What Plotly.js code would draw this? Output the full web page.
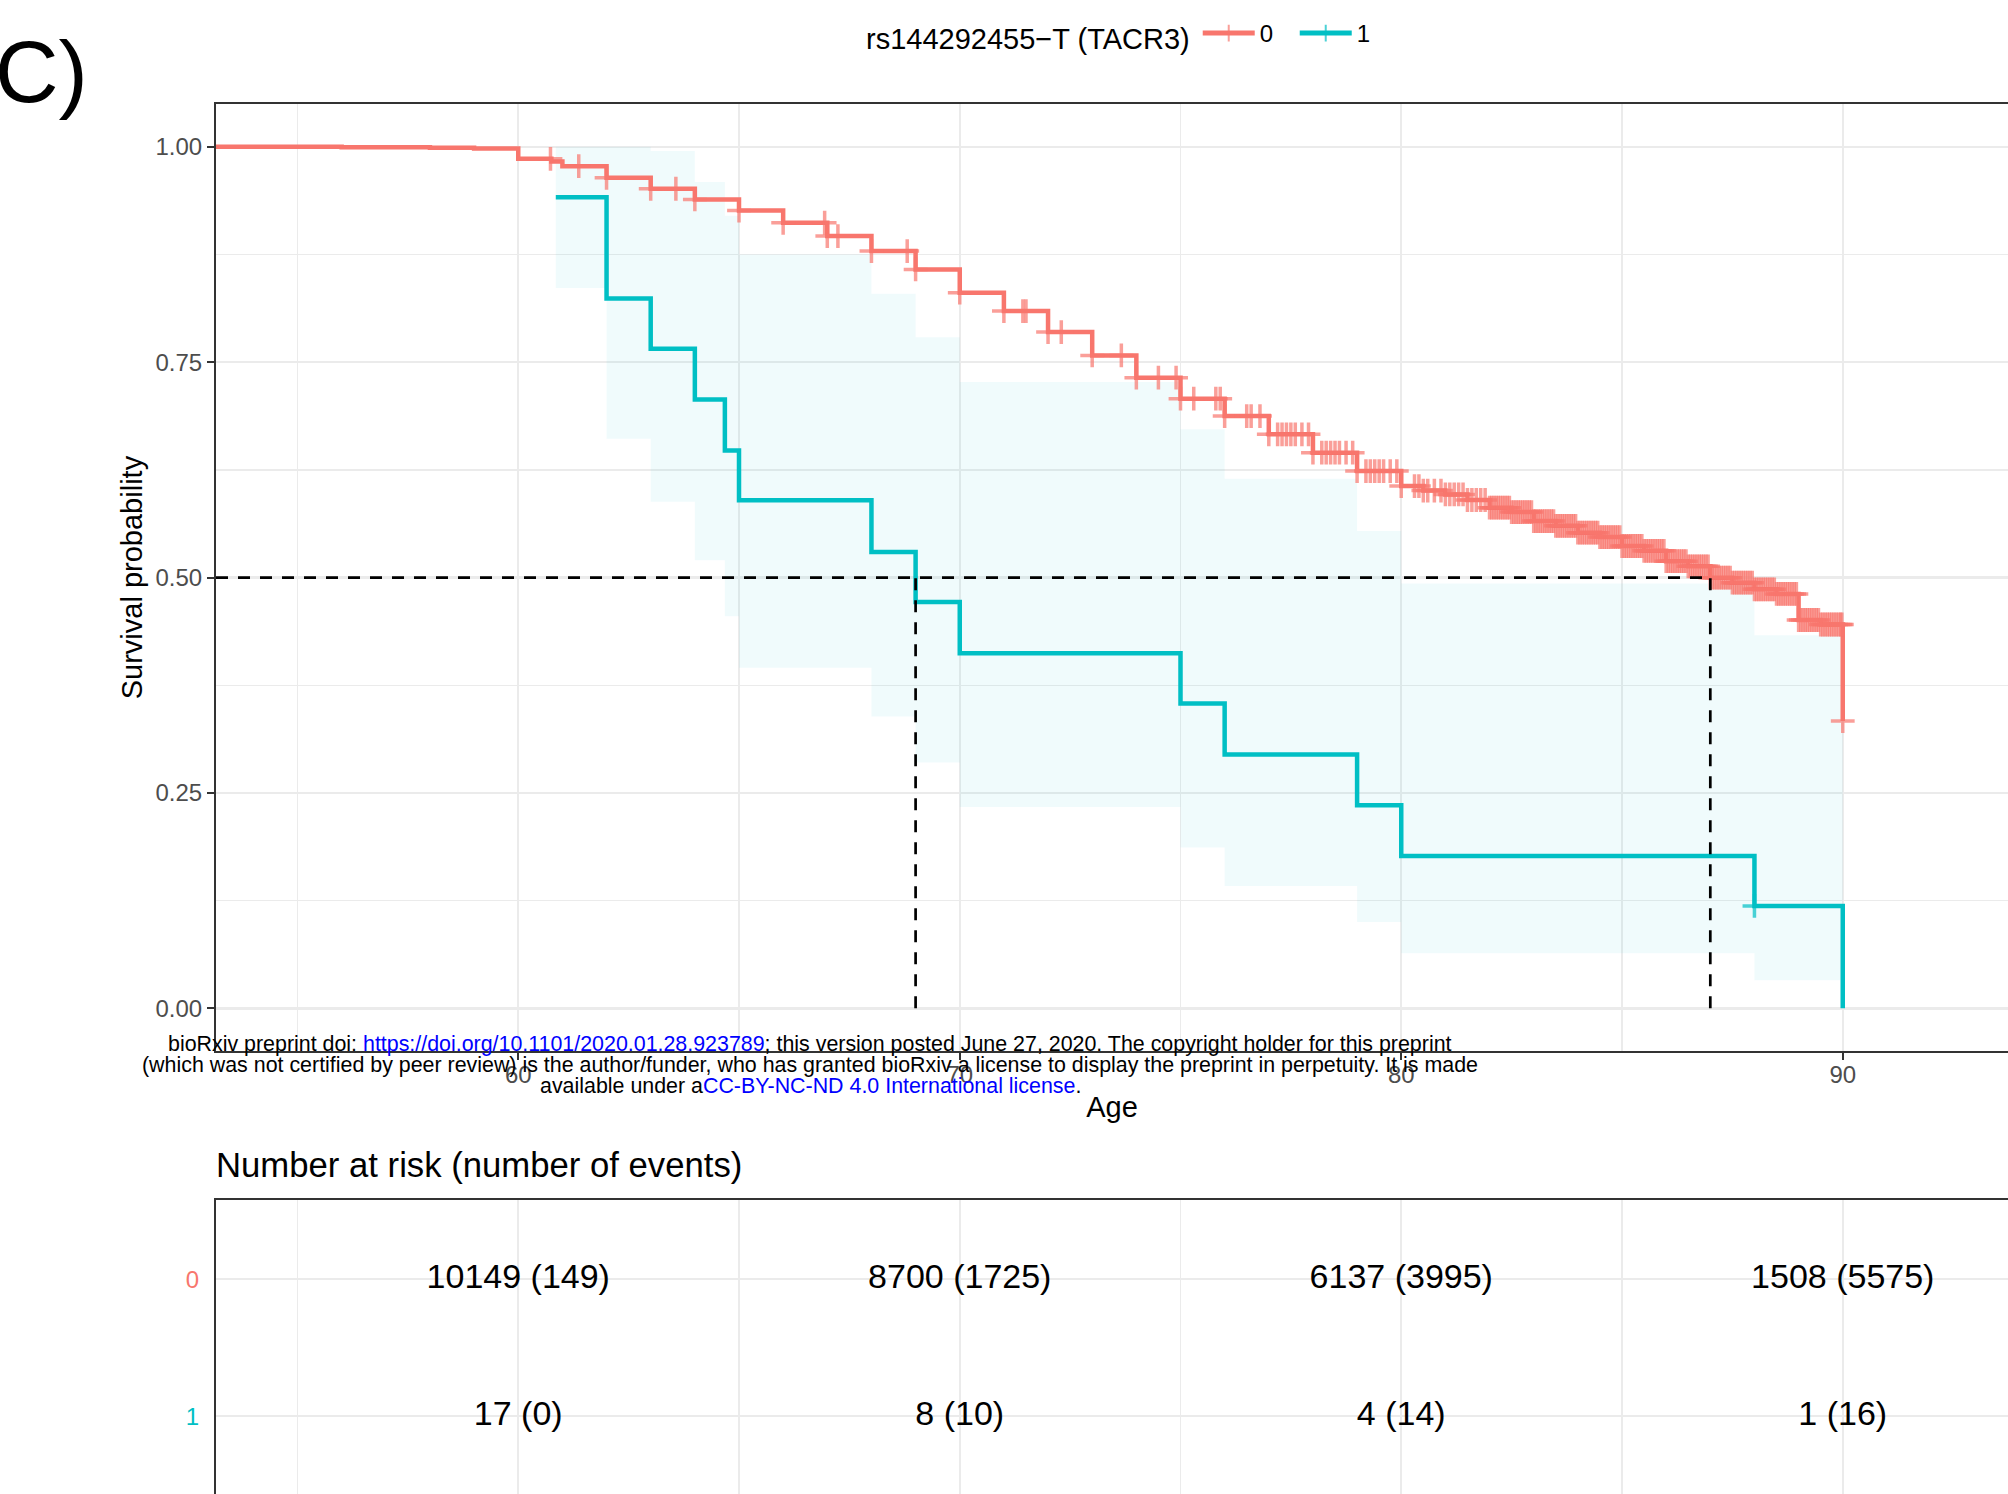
<!DOCTYPE html>
<html><head><meta charset="utf-8">
<script src="https://cdn.plot.ly/plotly-3.0.1.min.js"></script>
<style>html,body{margin:0;padding:0;background:#fff;} #chart{width:2008px;height:1494px;}</style>
</head><body><div id="chart"></div>
<script>
// ---------- data ----------
const legendTitle = 'rs144292455\u2212T (TACR3)';
const strata = ['0', '1'];
const strataColors = ['#F8766D', '#00BFC4'];

// stratum 0 Kaplan-Meier steps (age, survival after step)
const redTime = [53.15, 56.0, 58.0, 59.0, 60.0, 60.75, 61.0, 62.0, 63.0, 64.0, 65.0, 66.0, 67.0, 68.0, 69.0,
  70.0, 71.0, 72.0, 73.0, 74.0, 75.0, 76.0, 77.0, 78.0, 79.0, 80.0, 80.5, 81.0, 81.5, 82.0, 82.5, 83.0, 83.5,
  84.0, 84.5, 85.0, 85.5, 86.0, 86.5, 87.0, 87.5, 88.0, 88.5, 89.0, 89.5, 90.0];
const redSurv = [1.000, 0.9995, 0.999, 0.998, 0.986, 0.983, 0.9775, 0.964, 0.9513, 0.9389, 0.926, 0.9118, 0.8963, 0.8789, 0.8576,
  0.8306, 0.8093, 0.7849, 0.7578, 0.732, 0.7076, 0.6874, 0.6662, 0.6449, 0.6236, 0.6062, 0.6010, 0.5965, 0.5900, 0.5811, 0.5760, 0.5656, 0.5600,
  0.5521, 0.5470, 0.5366, 0.5310, 0.5190, 0.5130, 0.4998, 0.4940, 0.4863, 0.4810, 0.4507, 0.4455, 0.3335];
const redCensor = [60.73, 61.37, 62.0, 63.0, 63.57, 64.0, 65.0, 66.0, 66.94, 67.0, 67.24, 68.0, 68.81, 69.0, 70.0,
  71.0, 71.43, 71.5, 72.0, 72.3, 73.0, 73.66, 74.0, 74.5, 74.9, 75.0, 75.3, 75.8, 75.9, 76.0, 76.5, 76.6, 76.8,
  77.0, 77.2, 77.3, 77.4, 77.5, 77.6, 77.75, 77.9, 78.0, 78.2, 78.3, 78.4, 78.5, 78.6, 78.75, 78.9, 79.0, 79.2,
  79.3, 79.4, 79.5, 79.6, 79.75, 79.9, 80.0, 80.3, 80.4, 80.5, 80.6, 80.75, 80.9,
  81.0, 81.1, 81.2, 81.3, 81.4, 81.5, 81.6, 81.7, 81.8, 81.9,
  82.0, 82.05, 82.1, 82.15, 82.2, 82.25, 82.3, 82.35, 82.4, 82.45, 82.5, 82.55, 82.6, 82.65, 82.7, 82.75, 82.8, 82.85, 82.9, 82.95,
  83.0, 83.05, 83.1, 83.15, 83.2, 83.25, 83.3, 83.35, 83.4, 83.45, 83.5, 83.55, 83.6, 83.65, 83.7, 83.75, 83.8, 83.85, 83.9, 83.95,
  84.0, 84.05, 84.1, 84.15, 84.2, 84.25, 84.3, 84.35, 84.4, 84.45, 84.5, 84.55, 84.6, 84.65, 84.7, 84.75, 84.8, 84.85, 84.9, 84.95,
  85.0, 85.05, 85.1, 85.15, 85.2, 85.25, 85.3, 85.35, 85.4, 85.45, 85.5, 85.55, 85.6, 85.65, 85.7, 85.75, 85.8, 85.85, 85.9, 85.95,
  86.0, 86.05, 86.1, 86.15, 86.2, 86.25, 86.3, 86.35, 86.4, 86.45, 86.5, 86.55, 86.6, 86.65, 86.7, 86.75, 86.8, 86.85, 86.9, 86.95,
  87.0, 87.05, 87.1, 87.15, 87.2, 87.25, 87.3, 87.35, 87.4, 87.45, 87.5, 87.55, 87.6, 87.65, 87.7, 87.75, 87.8, 87.85, 87.9, 87.95,
  88.0, 88.05, 88.1, 88.15, 88.2, 88.25, 88.3, 88.35, 88.4, 88.45, 88.5, 88.55, 88.6, 88.65, 88.7, 88.75, 88.8, 88.85, 88.9, 88.95,
  89.0, 89.05, 89.1, 89.15, 89.2, 89.25, 89.3, 89.35, 89.4, 89.45, 89.5, 89.55, 89.6, 89.65, 89.7, 89.75, 89.8, 89.85, 89.9, 89.95,
  89.98, 90.0];

// stratum 1 Kaplan-Meier steps and confidence band
const tealTime = [60.85, 62.0, 63.0, 64.0, 64.68, 65.0, 68.0, 69.0, 70.0, 75.0, 76.0, 79.0, 80.0, 88.0, 90.0];
const tealSurv = [0.9415, 0.824, 0.7656, 0.7068, 0.6476, 0.5896, 0.5296, 0.4716, 0.412, 0.3537, 0.2945, 0.2357, 0.1769, 0.1188, 0.0];
const tealLower = [0.836, 0.661, 0.588, 0.520, 0.455, 0.3954, 0.3386, 0.2852, 0.2337, 0.1866, 0.142, 0.1002, 0.064, 0.0326, 0.0326];
const tealUpper = [1.0, 1.0, 0.995, 0.959, 0.920, 0.875, 0.8294, 0.779, 0.7269, 0.672, 0.6147, 0.554, 0.493, 0.433, 0.433];
const tealCensor = [88.0];

// risk table
const riskTimes = [60, 70, 80, 90];
const riskN0 = [10149, 8700, 6137, 1508];
const riskEv0 = [149, 1725, 3995, 5575];
const riskN1 = [17, 8, 4, 1];
const riskEv1 = [0, 10, 14, 16];

// ---------- helpers ----------
function stepValue(times, surv, t) {
  let v = surv[0];
  for (let i = 0; i < times.length; i++) { if (times[i] <= t + 1e-9) v = surv[i]; }
  return v;
}
function buildKM(times, surv, censor) {
  const pts = [];
  times.forEach((t, i) => pts.push({x: t, y: surv[i], s: 0, o: 0}));
  censor.forEach(t => pts.push({x: t, y: stepValue(times, surv, t), s: 17, o: 1}));
  pts.sort((a, b) => a.x - b.x || a.o - b.o);
  return {x: pts.map(p => p.x), y: pts.map(p => p.y), s: pts.map(p => p.s)};
}
function median(times, surv) {
  for (let i = 0; i < times.length; i++) if (surv[i] <= 0.5) return times[i];
  return null;
}

const xRange = [53.154, 93.743];
const redKM = buildKM(redTime, redSurv, redCensor);
const tealKM = buildKM(tealTime, tealSurv, tealCensor);
const medians = [median(redTime, redSurv), median(tealTime, tealSurv)];
const maxMed = Math.max(...medians);
const medX = [xRange[0], maxMed, null], medY = [0.5, 0.5, null];
medians.forEach(m => { medX.push(m, m, null); medY.push(0, 0.5, null); });

const traces = [
  {x: tealTime, y: tealLower, mode: 'lines', line: {shape: 'hv', width: 0, color: 'rgba(0,0,0,0)'},
   showlegend: false, hoverinfo: 'skip', xaxis: 'x', yaxis: 'y'},
  {x: tealTime, y: tealUpper, mode: 'lines', line: {shape: 'hv', width: 0, color: 'rgba(0,0,0,0)'},
   fill: 'tonexty', fillcolor: 'rgba(0,191,196,0.06)', showlegend: false, hoverinfo: 'skip', xaxis: 'x', yaxis: 'y'},
  {x: redKM.x, y: redKM.y, name: strata[0], mode: 'lines+markers',
   line: {shape: 'hv', width: 4.5, color: strataColors[0]},
   marker: {symbol: 'cross-thin-open', size: redKM.s, color: strataColors[0], line: {width: 3.5, color: strataColors[0]}},
   xaxis: 'x', yaxis: 'y'},
  {x: tealKM.x, y: tealKM.y, name: strata[1], mode: 'lines+markers',
   line: {shape: 'hv', width: 4.5, color: strataColors[1]},
   marker: {symbol: 'cross-thin-open', size: tealKM.s, color: strataColors[1], line: {width: 3.5, color: strataColors[1]}},
   xaxis: 'x', yaxis: 'y'},
  {x: medX, y: medY, mode: 'lines', line: {color: '#000000', width: 2.7, dash: '12px,10px'},
   showlegend: false, hoverinfo: 'skip', xaxis: 'x', yaxis: 'y'},
  {x: riskTimes.concat(riskTimes), y: riskTimes.map(() => 2).concat(riskTimes.map(() => 1)),
   text: riskN0.map((n, i) => n + ' (' + riskEv0[i] + ')').concat(riskN1.map((n, i) => n + ' (' + riskEv1[i] + ')')),
   mode: 'text', textposition: 'middle center', textfont: {size: 34, color: '#000000'},
   showlegend: false, hoverinfo: 'skip', xaxis: 'x2', yaxis: 'y2'}
];

const gridCol = '#EBEBEB', lineCol = '#333333';
const W = 2008, H = 1494, ML = 216;
const px = v => (v - ML) / (W - ML);
const py = v => 1 - v / H;

const layout = {
  width: W, height: H,
  margin: {l: ML, r: 0, t: 0, b: 0},
  paper_bgcolor: '#ffffff', plot_bgcolor: '#ffffff',
  font: {family: 'Liberation Sans, Arial, sans-serif', color: '#000000'},
  showlegend: true,
  legend: {orientation: 'h', x: px(864), xanchor: 'left', y: py(35), yanchor: 'middle',
    title: {text: legendTitle, side: 'left', font: {size: 29, color: '#000000'}},
    font: {size: 24, color: '#000000'}, itemsizing: 'constant', itemwidth: 52, entrywidth: 30,
    bgcolor: 'rgba(0,0,0,0)', traceorder: 'normal', valign: 'middle'},
  xaxis: {domain: [0, 1], range: xRange, anchor: 'y', tick0: 60, dtick: 10, ticks: 'outside', ticklen: 7,
    tickwidth: 2, tickcolor: lineCol, showline: true, linecolor: lineCol, linewidth: 2, mirror: true,
    showgrid: true, gridcolor: gridCol, gridwidth: 2.4, zeroline: false, ticklabelstandoff: -6,
    minor: {tick0: 55, dtick: 5, showgrid: true, gridcolor: gridCol, gridwidth: 1.3, ticks: ''},
    tickfont: {size: 24, color: '#4D4D4D'},
    title: {text: 'Age', font: {size: 29, color: '#000000'}, standoff: 9}},
  yaxis: {domain: [py(1051.4), py(103.7)], range: [-0.05, 1.05], anchor: 'x', tick0: 0, dtick: 0.25, tickformat: '.2f',
    ticks: 'outside', ticklen: 7, tickwidth: 2, tickcolor: lineCol, showline: true, linecolor: lineCol, linewidth: 2,
    mirror: false, showgrid: true, gridcolor: gridCol, gridwidth: 2.4, zeroline: false,
    minor: {tick0: 0, dtick: 0.125, showgrid: true, gridcolor: gridCol, gridwidth: 1.3, ticks: ''},
    tickfont: {size: 24, color: '#4D4D4D'},
    title: {text: 'Survival probability', font: {size: 29, color: '#000000'}, standoff: 4}},
  xaxis2: {domain: [0, 1], range: xRange, anchor: 'y2', side: 'top', tick0: 60, dtick: 10, ticks: '',
    showticklabels: false, showline: true, linecolor: lineCol, linewidth: 2, mirror: false,
    showgrid: true, gridcolor: gridCol, gridwidth: 2.4, zeroline: false,
    minor: {tick0: 55, dtick: 5, showgrid: true, gridcolor: gridCol, gridwidth: 1.3, ticks: ''}},
  yaxis2: {domain: [0, py(1200)], range: [0.432, 2.578], anchor: 'x2', tickvals: [2, 1],
    ticktext: strata.map((s, i) => '<span style="color:' + strataColors[i] + '">' + s + '</span>'),
    ticks: '', ticklabelstandoff: 10, showline: true, linecolor: lineCol, linewidth: 2, mirror: false,
    showgrid: true, gridcolor: gridCol, gridwidth: 2.4, zeroline: false, tickfont: {size: 24}},
  annotations: [
    {text: 'C)', xref: 'paper', yref: 'paper', x: px(90), y: py(71), xanchor: 'right', yanchor: 'middle',
     showarrow: false, font: {size: 88, color: '#000000'}},
    {text: 'Number at risk (number of events)', xref: 'paper', yref: 'paper', x: px(214), y: py(1165),
     xanchor: 'left', yanchor: 'middle', showarrow: false, font: {size: 34.7, color: '#000000'}},
    {text: 'bioRxiv preprint doi: <span style="color:#0000FF">https://doi.org/10.1101/2020.01.28.923789</span>; this version posted June 27, 2020. The copyright holder for this preprint',
     xref: 'paper', yref: 'paper', x: px(810), y: py(1044), xanchor: 'center', yanchor: 'middle', showarrow: false,
     font: {size: 21.4, color: '#000000'}},
    {text: '(which was not certified by peer review) is the author/funder, who has granted bioRxiv a license to display the preprint in perpetuity. It is made',
     xref: 'paper', yref: 'paper', x: px(810), y: py(1065.4), xanchor: 'center', yanchor: 'middle', showarrow: false,
     font: {size: 21.4, color: '#000000'}},
    {text: 'available under a<span style="color:#0000FF">CC-BY-NC-ND 4.0 International license</span>.',
     xref: 'paper', yref: 'paper', x: px(810), y: py(1086), xanchor: 'center', yanchor: 'middle', showarrow: false,
     font: {size: 21.4, color: '#000000'}}
  ]
};

Plotly.newPlot('chart', traces, layout, {displayModeBar: false, staticPlot: true});
</script>
</body></html>
